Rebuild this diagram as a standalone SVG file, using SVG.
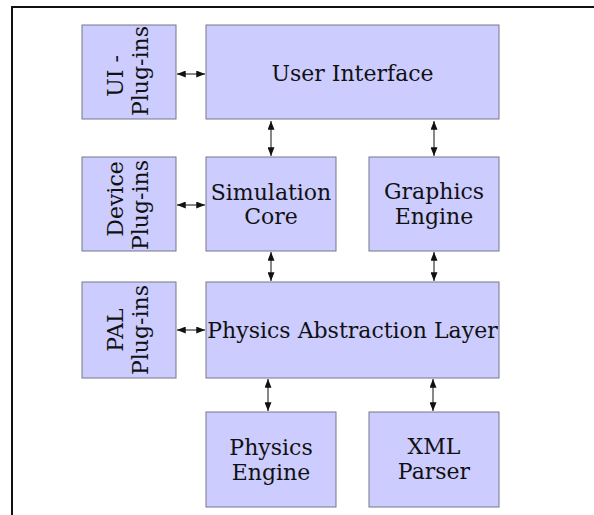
<svg xmlns="http://www.w3.org/2000/svg" width="594" height="515" viewBox="0 0 594 515">
<style>
.box{fill:#ccccff;stroke:#77778a;stroke-width:1}
.t{font-family:"DejaVu Serif",serif;font-size:22px;fill:#111;text-anchor:middle}
.c{stroke:#111;stroke-width:1;fill:none;marker-start:url(#a);marker-end:url(#a)}
</style>
<defs>
<marker id="a" viewBox="0 0 10 8" refX="10" refY="4" markerWidth="9" markerHeight="7" markerUnits="userSpaceOnUse" orient="auto-start-reverse">
<path d="M0,0 L10,4 L0,8 z" fill="#111"/>
</marker>
</defs>
<rect width="594" height="515" fill="#fff"/>
<rect x="12" y="7" width="600" height="530" fill="none" stroke="#111" stroke-width="2"/>
<g id="connectors">
<line class="c" x1="177" y1="74" x2="205" y2="74"/>
<line class="c" x1="177" y1="205" x2="205" y2="205"/>
<line class="c" x1="177" y1="330" x2="205" y2="330"/>
<line class="c" x1="271" y1="121" x2="271" y2="156"/>
<line class="c" x1="434" y1="121" x2="434" y2="156"/>
<line class="c" x1="271" y1="252" x2="271" y2="281"/>
<line class="c" x1="434" y1="252" x2="434" y2="281"/>
<line class="c" x1="268" y1="379" x2="268" y2="411"/>
<line class="c" x1="433" y1="379" x2="433" y2="411"/>
</g>
<g id="ui-plugins">
<rect class="box" x="82" y="25" width="94" height="94"/>
<text class="t" transform="translate(123,72) rotate(-90)" x="-4">UI -</text>
<text class="t" transform="translate(148,72) rotate(-90)" x="1">Plug-ins</text>
</g>
<g id="user-interface">
<rect class="box" x="206" y="25" width="293" height="94"/>
<text class="t" x="352.5" y="81">User Interface</text>
</g>
<g id="device-plugins">
<rect class="box" x="82" y="157" width="94" height="94"/>
<text class="t" transform="translate(123,204) rotate(-90)" x="5">Device</text>
<text class="t" transform="translate(148,204) rotate(-90)" x="-1">Plug-ins</text>
</g>
<g id="simulation-core">
<rect class="box" x="206" y="157" width="130" height="94"/>
<text class="t" x="271" y="200">Simulation</text>
<text class="t" x="271" y="224">Core</text>
</g>
<g id="graphics-engine">
<rect class="box" x="369" y="157" width="130" height="94"/>
<text class="t" x="434" y="199">Graphics</text>
<text class="t" x="434" y="224">Engine</text>
</g>
<g id="pal-plugins">
<rect class="box" x="82" y="282" width="94" height="96"/>
<text class="t" transform="translate(123,330) rotate(-90)">PAL</text>
<text class="t" transform="translate(148,330) rotate(-90)">Plug-ins</text>
</g>
<g id="pal">
<rect class="box" x="206" y="282" width="293" height="96"/>
<text class="t" x="352.5" y="338">Physics Abstraction Layer</text>
</g>
<g id="physics-engine">
<rect class="box" x="206" y="412" width="130" height="95"/>
<text class="t" x="271" y="455">Physics</text>
<text class="t" x="271" y="480">Engine</text>
</g>
<g id="xml-parser">
<rect class="box" x="369" y="412" width="130" height="95"/>
<text class="t" x="434" y="454">XML</text>
<text class="t" x="434" y="479">Parser</text>
</g>
</svg>
